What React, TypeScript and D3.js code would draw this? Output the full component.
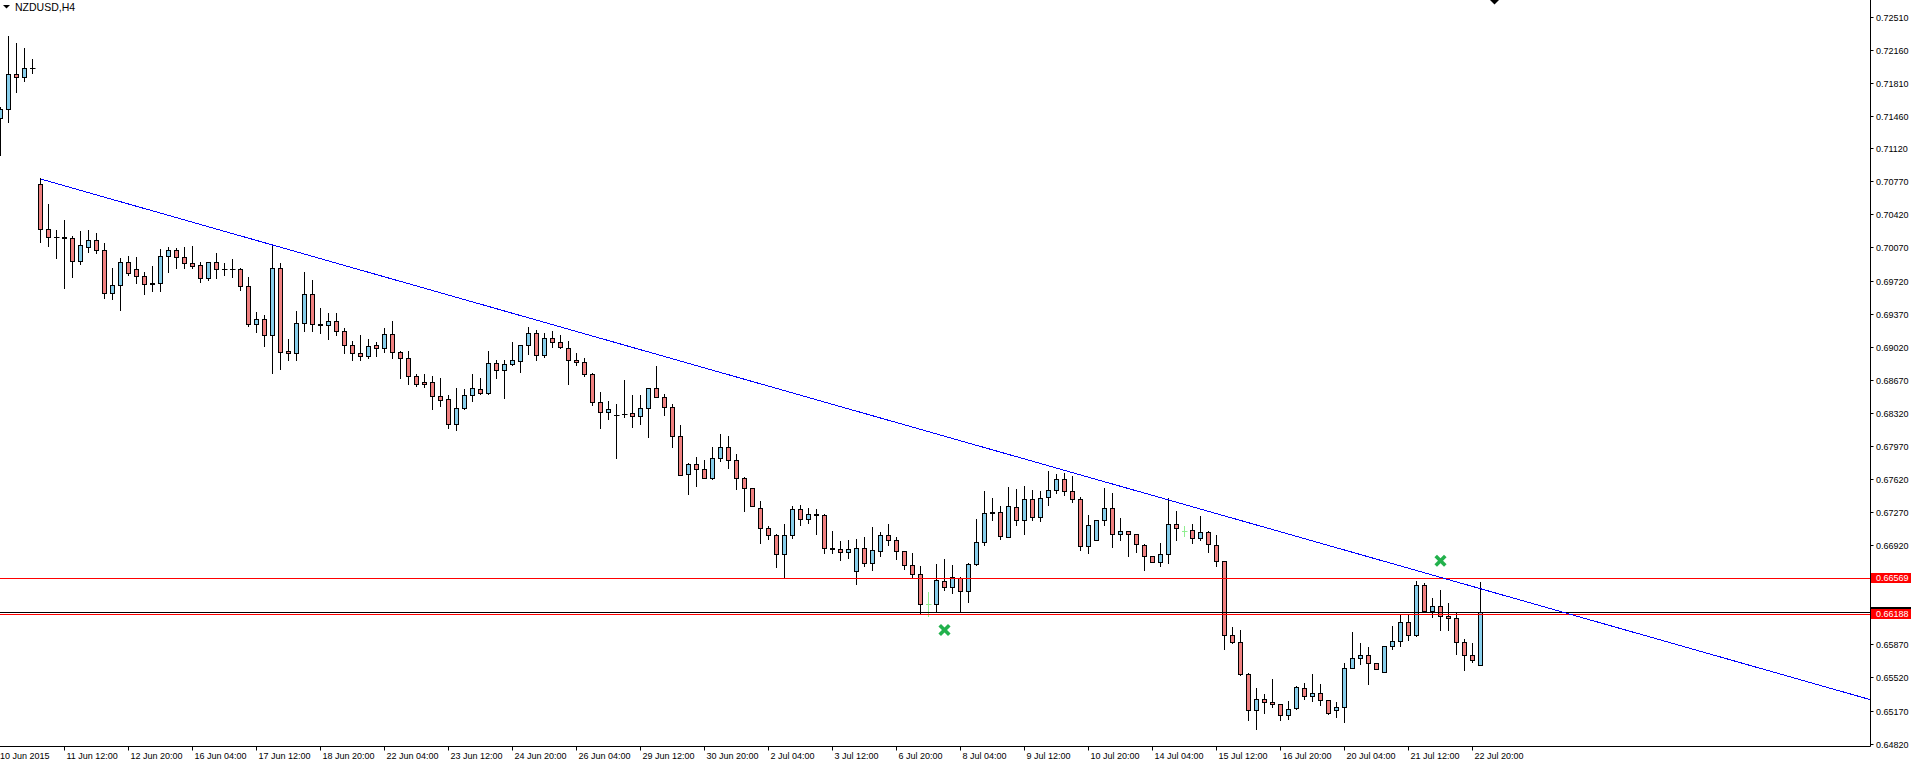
import React from 'react';
import * as d3 from 'd3';

const W = 1911;
const H = 764;
const PLOT_RIGHT = 1870.5;
const PLOT_BOTTOM = 746.5;

const chartTitle = 'NZDUSD,H4';

const barOpen = [
  0.71437, 0.71532, 0.71903, 0.71871, 0.71966, 0.70742, 0.70262, 0.70178, 0.70178, 0.70167,
  0.69924, 0.70078, 0.70146, 0.70040, 0.69585, 0.69670, 0.69913, 0.69839, 0.69765, 0.69691,
  0.69691, 0.69977, 0.70040, 0.69966, 0.69903, 0.69881, 0.69744, 0.69913, 0.69845, 0.69845,
  0.69839, 0.69659, 0.69263, 0.69310, 0.69141, 0.69850, 0.68975, 0.68950, 0.69268, 0.69575,
  0.69257, 0.69246, 0.69289, 0.69183, 0.69035, 0.68950, 0.68925, 0.69035, 0.69003, 0.69151,
  0.68961, 0.68897, 0.68707, 0.68646, 0.68643, 0.68495, 0.68463, 0.68199, 0.68368, 0.68506,
  0.68569, 0.68527, 0.68844, 0.68770, 0.68834, 0.68866, 0.69035, 0.69162, 0.68929, 0.69109,
  0.69067, 0.69003, 0.68876, 0.68855, 0.68728, 0.68432, 0.68326, 0.68297, 0.68308, 0.68315,
  0.68283, 0.68368, 0.68580, 0.68485, 0.68379, 0.68078, 0.67670, 0.67775, 0.67723, 0.67627,
  0.67839, 0.67955, 0.67818, 0.67627, 0.67521, 0.67310, 0.67098, 0.67024, 0.66823, 0.67024,
  0.67299, 0.67193, 0.67246, 0.67236, 0.66886, 0.66876, 0.66844, 0.66643, 0.66886, 0.66728,
  0.66855, 0.67024, 0.66971, 0.66855, 0.66707, 0.66611, 0.66297, 0.66294, 0.66537, 0.66474,
  0.66569, 0.66431, 0.66717, 0.66950, 0.67267, 0.67267, 0.67003, 0.67320, 0.67183, 0.67405,
  0.67215, 0.67426, 0.67500, 0.67617, 0.67490, 0.67405, 0.66908, 0.66971, 0.67183, 0.67310,
  0.67035, 0.67066, 0.67035, 0.66918, 0.66802, 0.66738, 0.66823, 0.67140, 0.67073, 0.67077,
  0.66992, 0.67056, 0.66918, 0.66749, 0.65966, 0.65892, 0.65553, 0.65172, 0.65288, 0.65257,
  0.65236, 0.65119, 0.65193, 0.65405, 0.65320, 0.65352, 0.65278, 0.65172, 0.65204, 0.65617,
  0.65722, 0.65754, 0.65669, 0.65574, 0.65849, 0.65902, 0.66103, 0.65966, 0.66495, 0.66220,
  0.66273, 0.66167, 0.66146, 0.65892, 0.65754, 0.65648,
];

const barHigh = [
  0.71560, 0.72308, 0.72234, 0.72181, 0.72065, 0.70802, 0.70530, 0.70255, 0.70361, 0.70192,
  0.70248, 0.70255, 0.70223, 0.70114, 0.69853, 0.69959, 0.69980, 0.69966, 0.69807, 0.69871,
  0.70054, 0.70072, 0.70061, 0.70075, 0.70083, 0.69913, 0.69918, 0.70009, 0.69909, 0.69945,
  0.69850, 0.69754, 0.69384, 0.69352, 0.70104, 0.69903, 0.69102, 0.69398, 0.69807, 0.69726,
  0.69430, 0.69373, 0.69373, 0.69215, 0.69077, 0.69144, 0.69102, 0.69070, 0.69218, 0.69292,
  0.68975, 0.68975, 0.68728, 0.68731, 0.68707, 0.68686, 0.68506, 0.68580, 0.68569, 0.68731,
  0.68686, 0.68975, 0.68876, 0.68876, 0.69067, 0.69040, 0.69229, 0.69194, 0.69162, 0.69186,
  0.69141, 0.69077, 0.68950, 0.68897, 0.68739, 0.68537, 0.68442, 0.68410, 0.68668, 0.68509,
  0.68509, 0.68585, 0.68816, 0.68519, 0.68414, 0.68188, 0.67786, 0.67853, 0.67818, 0.67955,
  0.68093, 0.68072, 0.67881, 0.67638, 0.67521, 0.67384, 0.67119, 0.67035, 0.67140, 0.67331,
  0.67342, 0.67310, 0.67299, 0.67246, 0.67066, 0.66961, 0.66971, 0.66982, 0.67003, 0.67109,
  0.67056, 0.67140, 0.67003, 0.66855, 0.66834, 0.66696, 0.66427, 0.66720, 0.66770, 0.66707,
  0.66580, 0.66728, 0.67193, 0.67490, 0.67419, 0.67331, 0.67532, 0.67511, 0.67543, 0.67500,
  0.67490, 0.67701, 0.67670, 0.67680, 0.67648, 0.67426, 0.67236, 0.67190, 0.67521, 0.67469,
  0.67204, 0.67066, 0.67035, 0.66929, 0.66802, 0.66939, 0.67416, 0.67278, 0.67126, 0.67140,
  0.67225, 0.67066, 0.67024, 0.66749, 0.66054, 0.66019, 0.65564, 0.65405, 0.65341, 0.65500,
  0.65236, 0.65267, 0.65426, 0.65458, 0.65553, 0.65447, 0.65278, 0.65257, 0.65669, 0.65998,
  0.65881, 0.65839, 0.65669, 0.65849, 0.66061, 0.66177, 0.66177, 0.66537, 0.66516, 0.66357,
  0.66442, 0.66304, 0.66199, 0.65923, 0.65881, 0.66527,
];

const barLow = [
  0.71049, 0.71401, 0.71719, 0.71835, 0.71913, 0.70131, 0.70089, 0.69962, 0.69644, 0.69761,
  0.69898, 0.70025, 0.70009, 0.69539, 0.69522, 0.69412, 0.69779, 0.69697, 0.69581, 0.69613,
  0.69613, 0.69814, 0.69856, 0.69856, 0.69856, 0.69708, 0.69723, 0.69750, 0.69782, 0.69761,
  0.69623, 0.69242, 0.69179, 0.69031, 0.68739, 0.68787, 0.68882, 0.68882, 0.69189, 0.69189,
  0.69168, 0.69105, 0.69147, 0.68957, 0.68882, 0.68882, 0.68904, 0.68925, 0.68967, 0.68904,
  0.68692, 0.68622, 0.68607, 0.68590, 0.68358, 0.68396, 0.68163, 0.68142, 0.68358, 0.68449,
  0.68516, 0.68520, 0.68686, 0.68480, 0.68823, 0.68755, 0.68946, 0.68882, 0.68914, 0.69020,
  0.69003, 0.68628, 0.68823, 0.68707, 0.68400, 0.68163, 0.68252, 0.67839, 0.68273, 0.68173,
  0.68202, 0.68068, 0.68485, 0.68300, 0.67962, 0.67659, 0.67464, 0.67549, 0.67627, 0.67617,
  0.67807, 0.67733, 0.67511, 0.67284, 0.67331, 0.66939, 0.66982, 0.66692, 0.66569, 0.66992,
  0.67130, 0.67151, 0.67035, 0.66834, 0.66834, 0.66759, 0.66781, 0.66506, 0.66696, 0.66654,
  0.66802, 0.66918, 0.66770, 0.66664, 0.66580, 0.66202, 0.66170, 0.66209, 0.66442, 0.66410,
  0.66209, 0.66315, 0.66707, 0.66918, 0.67183, 0.66982, 0.67003, 0.67130, 0.67035, 0.67183,
  0.67172, 0.67342, 0.67469, 0.67447, 0.67373, 0.66865, 0.66834, 0.66971, 0.67130, 0.66897,
  0.66971, 0.66802, 0.66844, 0.66660, 0.66738, 0.66696, 0.66728, 0.66971, 0.67020, 0.66939,
  0.66971, 0.66844, 0.66696, 0.65824, 0.65881, 0.65542, 0.65066, 0.64977, 0.65140, 0.65204,
  0.65066, 0.65077, 0.65183, 0.65288, 0.65267, 0.65225, 0.65130, 0.65098, 0.65045, 0.65617,
  0.65659, 0.65447, 0.65606, 0.65574, 0.65818, 0.65849, 0.65913, 0.65955, 0.66220, 0.66156,
  0.66019, 0.66019, 0.65765, 0.65595, 0.65680, 0.65648,
];

const barClose = [
  0.71532, 0.71903, 0.71871, 0.71966, 0.71965, 0.70262, 0.70178, 0.70177, 0.70167, 0.69924,
  0.70093, 0.70149, 0.70040, 0.69585, 0.69670, 0.69913, 0.69797, 0.69765, 0.69680, 0.69680,
  0.69977, 0.70040, 0.69966, 0.69903, 0.69877, 0.69744, 0.69913, 0.69839, 0.69844, 0.69844,
  0.69659, 0.69263, 0.69310, 0.69141, 0.69850, 0.68967, 0.68950, 0.69268, 0.69575, 0.69257,
  0.69246, 0.69289, 0.69183, 0.69035, 0.68950, 0.68925, 0.69024, 0.69003, 0.69151, 0.68961,
  0.68904, 0.68707, 0.68622, 0.68622, 0.68495, 0.68453, 0.68199, 0.68368, 0.68506, 0.68580,
  0.68527, 0.68844, 0.68770, 0.68834, 0.68876, 0.69035, 0.69162, 0.68929, 0.69109, 0.69067,
  0.69014, 0.68876, 0.68855, 0.68728, 0.68432, 0.68326, 0.68358, 0.68296, 0.68307, 0.68283,
  0.68368, 0.68580, 0.68485, 0.68379, 0.68078, 0.67659, 0.67775, 0.67723, 0.67627, 0.67839,
  0.67955, 0.67818, 0.67627, 0.67521, 0.67331, 0.67098, 0.67024, 0.66823, 0.67024, 0.67299,
  0.67193, 0.67246, 0.67236, 0.66886, 0.66876, 0.66844, 0.66876, 0.66886, 0.66728, 0.66865,
  0.67024, 0.66971, 0.66855, 0.66707, 0.66611, 0.66297, 0.66297, 0.66548, 0.66474, 0.66580,
  0.66431, 0.66717, 0.66950, 0.67257, 0.67257, 0.67013, 0.67331, 0.67183, 0.67405, 0.67215,
  0.67416, 0.67500, 0.67617, 0.67490, 0.67405, 0.66908, 0.67130, 0.67183, 0.67310, 0.67035,
  0.67066, 0.67035, 0.66929, 0.66802, 0.66738, 0.66823, 0.67140, 0.67098, 0.67073, 0.66992,
  0.67056, 0.66929, 0.66749, 0.65966, 0.65892, 0.65553, 0.65172, 0.65288, 0.65257, 0.65236,
  0.65119, 0.65183, 0.65415, 0.65320, 0.65352, 0.65278, 0.65140, 0.65204, 0.65617, 0.65722,
  0.65754, 0.65669, 0.65606, 0.65849, 0.65902, 0.66103, 0.65966, 0.66495, 0.66220, 0.66273,
  0.66167, 0.66146, 0.65892, 0.65754, 0.65701, 0.66209,
];

const xTickBars = [0, 8, 16, 24, 32, 40, 48, 56, 64, 72, 80, 88, 96, 104, 112, 120, 128, 136, 144, 152, 160, 168, 176, 184];
const xTickLabels = [
  '10 Jun 2015', '11 Jun 12:00', '12 Jun 20:00', '16 Jun 04:00', '17 Jun 12:00', '18 Jun 20:00',
  '22 Jun 04:00', '23 Jun 12:00', '24 Jun 20:00', '26 Jun 04:00', '29 Jun 12:00', '30 Jun 20:00',
  '2 Jul 04:00', '3 Jul 12:00', '6 Jul 20:00', '8 Jul 04:00', '9 Jul 12:00', '10 Jul 20:00',
  '14 Jul 04:00', '15 Jul 12:00', '16 Jul 20:00', '20 Jul 04:00', '21 Jul 12:00', '22 Jul 20:00',
];

const yTickValues = [
  0.72510, 0.72160, 0.71810, 0.71460, 0.71120, 0.70770, 0.70420, 0.70070, 0.69720, 0.69370,
  0.69020, 0.68670, 0.68320, 0.67970, 0.67620, 0.67270, 0.66920, 0.66570, 0.66220, 0.65870,
  0.65520, 0.65170, 0.64820,
];

const levelPrices = [0.66569, 0.66188];
const bidPrice = 0.66209;
const trendBars = [5, 150];
const trendPrices = [0.70795, 0.67302];
const markerBars = [118, 180];
const markerPrices = [0.66022, 0.66755];

const BULL = '#87CEEB';
const BEAR = '#F08080';
const DOJI = '#90EE90';
const FONT = '"Liberation Sans", Arial, sans-serif';

export default function App() {
  const x = d3.scaleLinear().domain([0, 1]).range([0.5, 8.5]);
  const y = d3.scaleLinear().domain([0.6482, 0.7251]).range([743.6, 16.9]);
  const py = (v: number) => Math.round(y(v)) + 0.5;

  const candles = barOpen.map((o, i) => {
    const c = barClose[i];
    const hi = barHigh[i];
    const lo = barLow[i];
    const cx = x(i);
    const top = Math.round(y(Math.max(o, c)));
    const bot = Math.round(y(Math.min(o, c)));
    const isDoji = o === c;
    const fill = c > o ? BULL : BEAR;
    const stroke = isDoji ? DOJI : '#000';
    const wt = Math.round(y(hi));
    const wb = Math.round(y(lo));
    return (
      <g key={i}>
        <line x1={cx} x2={cx} y1={wt} y2={wb + 1} stroke={stroke} strokeWidth={1} />
        {bot - top >= 1 ? (
          <rect x={cx - 2} y={top + 0.5} width={4} height={bot - top} fill={fill} stroke="#000" strokeWidth={1} />
        ) : (
          <line x1={cx - 2.5} x2={cx + 3} y1={top + 0.5} y2={top + 0.5} stroke={stroke} strokeWidth={1} />
        )}
      </g>
    );
  });

  const slope = (trendPrices[1] - trendPrices[0]) / (trendBars[1] - trendBars[0]);
  const endBar = x.invert(PLOT_RIGHT);
  const tx1 = x(trendBars[0]);
  const ty1 = y(trendPrices[0]);
  const tx2 = PLOT_RIGHT;
  const ty2 = y(trendPrices[0] + slope * (endBar - trendBars[0]));

  const fmt = d3.format('.5f');

  return (
    <svg width={W} height={H} style={{ position: 'absolute', left: 0, top: 0, background: '#fff' }}>
      <rect x={0} y={0} width={W} height={H} fill="#fff" />
      <polygon points="3,5 10,5 6.5,8.5" fill="#000" />
      <text x={15} y={11} fontFamily={FONT} fontSize={10.5} fill="#000">{chartTitle}</text>
      <polygon points="1490,0 1499,0 1494.5,4.5" fill="#000" />

      {candles}

      {levelPrices.map((p, k) => (
        <line key={k} x1={0} x2={PLOT_RIGHT} y1={py(p)} y2={py(p)} stroke="#FF0000" strokeWidth={1} />
      ))}
      <line x1={0} x2={PLOT_RIGHT} y1={py(bidPrice)} y2={py(bidPrice)} stroke="#000" strokeWidth={1} />

      <line x1={tx1} y1={ty1} x2={tx2} y2={ty2} stroke="#0000FF" strokeWidth={1} shapeRendering="crispEdges" />

      {markerBars.map((b, k) => {
        const mx = x(b);
        const my = y(markerPrices[k]);
        const r = 4.8;
        return (
          <g key={k} stroke="#22B14C" strokeWidth={3.6}>
            <line x1={mx - r} y1={my - r} x2={mx + r} y2={my + r} />
            <line x1={mx - r} y1={my + r} x2={mx + r} y2={my - r} />
          </g>
        );
      })}

      <rect x={PLOT_RIGHT} y={0} width={W - PLOT_RIGHT} height={H} fill="#fff" />
      <rect x={0} y={PLOT_BOTTOM} width={W} height={H - PLOT_BOTTOM} fill="#fff" />
      <line x1={PLOT_RIGHT} x2={PLOT_RIGHT} y1={0} y2={PLOT_BOTTOM} stroke="#000" strokeWidth={1} />
      <line x1={0} x2={PLOT_RIGHT} y1={PLOT_BOTTOM} y2={PLOT_BOTTOM} stroke="#000" strokeWidth={1} />

      {yTickValues.map((v, k) => (
        <g key={k}>
          <line x1={PLOT_RIGHT} x2={PLOT_RIGHT + 3} y1={py(v)} y2={py(v)} stroke="#000" strokeWidth={1} />
          <text x={1876} y={py(v)} dy="0.35em" fontFamily={FONT} fontSize={9} fill="#000">{fmt(v)}</text>
        </g>
      ))}

      {xTickBars.map((b, k) => {
        const tx = x(b);
        return (
          <g key={k}>
            {k > 0 && <line x1={tx} x2={tx} y1={PLOT_BOTTOM} y2={PLOT_BOTTOM + 4} stroke="#000" strokeWidth={1} />}
            <text x={k > 0 ? tx + 2 : 0} y={759} fontFamily={FONT} fontSize={9} fill="#000">{xTickLabels[k]}</text>
          </g>
        );
      })}

      <rect x={1871} y={Math.round(y(bidPrice)) - 5} width={W - 1871} height={10} fill="#000" />
      <text x={1876} y={Math.round(y(bidPrice))} dy="0.35em" fontFamily={FONT} fontSize={9} fill="#fff">{fmt(bidPrice)}</text>
      {levelPrices.map((p, k) => (
        <g key={k}>
          <rect x={1871} y={Math.round(y(p)) - 5} width={W - 1871} height={10} fill="#FF0000" />
          <text x={1876} y={Math.round(y(p))} dy="0.35em" fontFamily={FONT} fontSize={9} fill="#fff">{fmt(p)}</text>
        </g>
      ))}
    </svg>
  );
}
